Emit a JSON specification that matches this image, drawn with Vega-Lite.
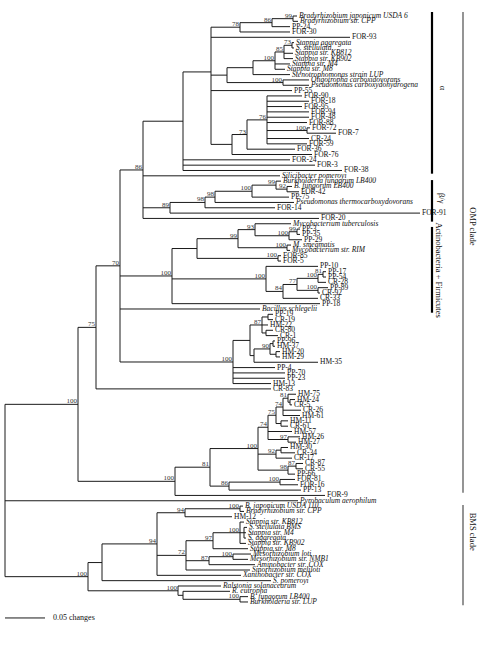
{
"$schema": "https://vega.github.io/schema/vega-lite/v6.json",
"width": 486, "height": 648, "padding": 0, "autosize": {"type": "none"},
"background": "white",
"config": {"view": {"stroke": null}, "text": {"font": "Liberation Serif", "color": "#111"}},
"datasets": {
"nodes": [
{"id":"root","p":null,"d":0,"r":90},
{"id":"n100A","p":"root","d":73,"r":73.9,"b":"100"},
{"id":"n75","p":"n100A","d":91,"r":59.45,"b":"75"},
{"id":"n70","p":"n75","d":115,"r":47.9,"b":"70"},
{"id":"n86b","p":"n70","d":138,"r":29.9,"b":"86"},
{"id":"nAlpha","p":"n86b","d":178,"r":20.75},
{"id":"n211","p":"nAlpha","d":206,"r":11.5},
{"id":"n78","p":"n211","d":235,"r":3.1,"b":"78"},
{"id":"n86a","p":"n78","d":267,"r":2.25,"b":"86"},
{"id":"n99a","p":"n86a","d":288,"r":1.5,"b":"99"},
{"id":"n73a","p":"n85a","d":287,"r":6.5,"b":"73"},
{"id":"n85a","p":"n100s","d":279,"r":7.75,"b":"85"},
{"id":"n100s","p":"nSt","d":270,"r":9.4,"b":"100"},
{"id":"nSt","p":"nS","d":248,"r":10.7},
{"id":"n100o","p":"nS","d":278,"r":13.5,"b":"100"},
{"id":"nS","p":"n211","d":222,"r":12.1},
{"id":"nF","p":"n211","d":227,"r":25.1},
{"id":"n73b","p":"nF","d":242,"r":23.25,"b":"73"},
{"id":"n76","p":"n73b","d":262,"r":20.5,"b":"76"},
{"id":"n100F","p":"n76","d":302,"r":22.5,"b":"100"},
{"id":"n89","p":"n86b","d":165,"r":37,"b":"89"},
{"id":"n98a","p":"n89","d":200,"r":36,"b":"98"},
{"id":"n98b","p":"n98a","d":210,"r":35,"b":"98"},
{"id":"n100B","p":"n98b","d":247,"r":33.9,"b":"100"},
{"id":"n99b","p":"n100B","d":271,"r":32.75,"b":"99"},
{"id":"n92","p":"n99b","d":282,"r":33.5,"b":"92"},
{"id":"n100e","p":"n70","d":167,"r":49.8,"b":"100"},
{"id":"n197","p":"n100e","d":192,"r":44.65},
{"id":"n99c","p":"n197","d":233,"r":42.8,"b":"99"},
{"id":"n93","p":"n99c","d":250,"r":41.1,"b":"93"},
{"id":"n100pp","p":"n93","d":284,"r":42.25,"b":"100"},
{"id":"n99pp","p":"n100pp","d":292,"r":41.5,"b":"99"},
{"id":"n100ms","p":"n99c","d":282,"r":44.5,"b":"100"},
{"id":"n100f85","p":"n197","d":273,"r":46.5,"b":"100"},
{"id":"n100f","p":"n100e","d":261,"r":50.35,"b":"100"},
{"id":"n84","p":"n100f","d":278,"r":52.7,"b":"84"},
{"id":"n77","p":"n84","d":292,"r":51.4,"b":"77"},
{"id":"n100g","p":"n77","d":313,"r":50.25,"b":"100"},
{"id":"n81c","p":"n100g","d":318,"r":49.5,"b":"81"},
{"id":"n100h","p":"n77","d":313,"r":52.5,"b":"100"},
{"id":"n100d","p":"n70","d":228,"r":65.95,"b":"100"},
{"id":"nX","p":"n100d","d":245,"r":61.9},
{"id":"n87","p":"nX","d":257,"r":59,"b":"87"},
{"id":"na","p":"n87","d":263,"r":57.5},
{"id":"nb","p":"n87","d":261,"r":60.5},
{"id":"nY","p":"nX","d":249,"r":64.75},
{"id":"n90","p":"nY","d":265,"r":63.5,"b":"90"},
{"id":"nZ","p":"n90","d":268,"r":62.5},
{"id":"nW","p":"n90","d":271,"r":64.5},
{"id":"n100E","p":"n100A","d":170,"r":88.35,"b":"100"},
{"id":"n81","p":"n100E","d":205,"r":85.7,"b":"81"},
{"id":"n100b","p":"n81","d":253,"r":82.2,"b":"100"},
{"id":"n74a","p":"n100b","d":263,"r":78.2,"b":"74"},
{"id":"n75b","p":"n74a","d":271,"r":75.95,"b":"75"},
{"id":"n74b","p":"n75b","d":278,"r":74.4,"b":"74"},
{"id":"n8x","p":"n74b","d":283,"r":72.75,"b":"81"},
{"id":"nHM24","p":"n8x","d":285,"r":73.5},
{"id":"nHM11","p":"n75b","d":276,"r":77.5},
{"id":"n97","p":"n74a","d":283,"r":80.5,"b":"97"},
{"id":"n92b","p":"n100b","d":271,"r":83.25,"b":"92"},
{"id":"nHM30","p":"n92b","d":276,"r":82.5},
{"id":"n98","p":"n100b","d":283,"r":86.25,"b":"98"},
{"id":"n87b","p":"n98","d":291,"r":85.5,"b":"87"},
{"id":"n86c","p":"n81","d":224,"r":89.25,"b":"86"},
{"id":"n100c","p":"n86c","d":275,"r":88.5,"b":"100"},
{"id":"nBMS","p":"root","d":83,"r":106.25,"b":"100"},
{"id":"n102","p":"nBMS","d":97,"r":103.6},
{"id":"n157","p":"n102","d":152,"r":100.1,"b":"94"},
{"id":"n94b","p":"n157","d":180,"r":94.25,"b":"94"},
{"id":"n100u","p":"n94b","d":235,"r":93.5,"b":"100"},
{"id":"n72","p":"n157","d":181,"r":102.25,"b":"72"},
{"id":"n97b","p":"n72","d":208,"r":99.5,"b":"97"},
{"id":"n100st","p":"n97b","d":235,"r":98,"b":"100"},
{"id":"nD","p":"n100st","d":239,"r":98},
{"id":"n87c","p":"n72","d":204,"r":103.25,"b":"87"},
{"id":"n100m","p":"n87c","d":228,"r":102.5,"b":"100"},
{"id":"nA2","p":"nBMS","d":173,"r":108.9,"b":"100"},
{"id":"nB2","p":"nA2","d":178,"r":109.75},
{"id":"nC","p":"nB2","d":235,"r":110.5,"b":"100"},
{"id":"L1","p":"n99a","d":292,"r":1,"name":"Bradyrhizobium japonicum USDA 6","kind":"taxon"},
{"id":"L2","p":"n99a","d":293,"r":2,"name":"Bradyrhizobium str. CPP","kind":"taxon"},
{"id":"L3","p":"n86a","d":285,"r":3,"name":"PP-24","kind":"clone"},
{"id":"L4","p":"n78","d":285,"r":4,"name":"FOR-30","kind":"clone"},
{"id":"L5","p":"n211","d":345,"r":5,"name":"FOR-93","kind":"clone"},
{"id":"L6","p":"n73a","d":289,"r":6,"name":"Stappia aggregata","kind":"taxon"},
{"id":"L7","p":"n73a","d":289,"r":7,"name":"S. stellulata","kind":"taxon"},
{"id":"L8","p":"n85a","d":288,"r":8,"name":"Stappia str. KB812","kind":"taxon"},
{"id":"L9","p":"n85a","d":288,"r":9,"name":"Stappia str. KB902","kind":"taxon"},
{"id":"L10","p":"n100s","d":285,"r":10,"name":"Stappia str. M4","kind":"taxon"},
{"id":"L11","p":"n100s","d":280,"r":11,"name":"Stappia str. M8","kind":"taxon"},
{"id":"L12","p":"nSt","d":285,"r":12,"name":"Stenotrophomonas strain LUP","kind":"taxon"},
{"id":"L13","p":"n100o","d":304,"r":13,"name":"Oligotropha carboxidovorans","kind":"taxon"},
{"id":"L14","p":"n100o","d":304,"r":14,"name":"Pseudomonas carboxydohydrogena","kind":"taxon"},
{"id":"L15","p":"n211","d":287,"r":15,"name":"PP-55","kind":"clone"},
{"id":"L16","p":"n76","d":297,"r":16,"name":"FOR-90","kind":"clone"},
{"id":"L17","p":"n76","d":304,"r":17,"name":"FOR-18","kind":"clone"},
{"id":"L18","p":"n76","d":297,"r":18,"name":"FOR-95","kind":"clone"},
{"id":"L19","p":"n76","d":304,"r":19,"name":"FOR-94","kind":"clone"},
{"id":"L20","p":"n76","d":304,"r":20,"name":"FOR-48","kind":"clone"},
{"id":"L21","p":"n76","d":302,"r":21,"name":"FOR-88","kind":"clone"},
{"id":"L22","p":"n100F","d":305,"r":22,"name":"FOR-72","kind":"clone"},
{"id":"L23","p":"n100F","d":331,"r":23,"name":"FOR-7","kind":"clone"},
{"id":"L24","p":"n76","d":304,"r":24,"name":"CR-24","kind":"clone"},
{"id":"L25","p":"n76","d":302,"r":25,"name":"FOR-59","kind":"clone"},
{"id":"L26","p":"n73b","d":290,"r":26,"name":"FOR-36","kind":"clone"},
{"id":"L27","p":"nF","d":307,"r":27,"name":"FOR-76","kind":"clone"},
{"id":"L28","p":"nAlpha","d":285,"r":28,"name":"FOR-24","kind":"clone"},
{"id":"L29","p":"nAlpha","d":310,"r":29,"name":"FOR-3","kind":"clone"},
{"id":"L30","p":"nAlpha","d":337,"r":30,"name":"FOR-38","kind":"clone"},
{"id":"L31","p":"n86b","d":275,"r":31,"name":"Silicibacter pomeroyi","kind":"taxon"},
{"id":"L32","p":"n99b","d":276,"r":32,"name":"Burkholderia fungorum LB400","kind":"taxon"},
{"id":"L33","p":"n92","d":287,"r":33,"name":"B. fungorum LB400","kind":"taxon"},
{"id":"L34","p":"n92","d":294,"r":34,"name":"FOR-42","kind":"clone"},
{"id":"L35","p":"n100B","d":284,"r":35,"name":"PP-75","kind":"clone"},
{"id":"L36","p":"n98b","d":289,"r":36,"name":"Pseudomonas thermocarboxydovorans","kind":"taxon"},
{"id":"L37","p":"n98a","d":270,"r":37,"name":"FOR-14","kind":"clone"},
{"id":"L38","p":"n89","d":415,"r":38,"name":"FOR-91","kind":"clone"},
{"id":"L39","p":"n86b","d":314,"r":39,"name":"FOR-20","kind":"clone"},
{"id":"L40","p":"n93","d":286,"r":40,"name":"Mycobacterium tuberculosis","kind":"taxon"},
{"id":"L41","p":"n99pp","d":295,"r":41,"name":"PP-3","kind":"clone"},
{"id":"L42","p":"n99pp","d":295,"r":42,"name":"PP-35","kind":"clone"},
{"id":"L43","p":"n100pp","d":297,"r":43,"name":"PP-29","kind":"clone"},
{"id":"L44","p":"n100ms","d":286,"r":44,"name":"M. smegmatis","kind":"taxon"},
{"id":"L45","p":"n100ms","d":285,"r":45,"name":"Mycobacterium str. RIM","kind":"taxon"},
{"id":"L46","p":"n100f85","d":276,"r":46,"name":"FOR-85","kind":"clone"},
{"id":"L47","p":"n100f85","d":276,"r":47,"name":"FOR-5","kind":"clone"},
{"id":"L48","p":"n100f","d":313,"r":48,"name":"PP-10","kind":"clone"},
{"id":"L49","p":"n81c","d":321,"r":49,"name":"PP-17","kind":"clone"},
{"id":"L50","p":"n81c","d":321,"r":50,"name":"PP-54","kind":"clone"},
{"id":"L51","p":"n100g","d":321,"r":51,"name":"CR-28","kind":"clone"},
{"id":"L52","p":"n100h","d":323,"r":52,"name":"PP-89","kind":"clone"},
{"id":"L53","p":"n100h","d":315,"r":53,"name":"CR-92","kind":"clone"},
{"id":"L54","p":"n84","d":313,"r":54,"name":"CR-33","kind":"clone"},
{"id":"L55","p":"n100e","d":315,"r":55,"name":"PP-18","kind":"clone"},
{"id":"L56","p":"n70","d":255,"r":56,"name":"Bacillus schlegelii","kind":"taxon"},
{"id":"L57","p":"na","d":268,"r":57,"name":"PP-19","kind":"clone"},
{"id":"L58","p":"na","d":268,"r":58,"name":"CR-19","kind":"clone"},
{"id":"L59","p":"n87","d":263,"r":59,"name":"HM-22","kind":"clone"},
{"id":"L60","p":"nb","d":268,"r":60,"name":"CR-80","kind":"clone"},
{"id":"L61","p":"nb","d":273,"r":61,"name":"CR-1","kind":"clone"},
{"id":"L62","p":"nZ","d":270,"r":62,"name":"PP-96","kind":"clone"},
{"id":"L63","p":"nZ","d":270,"r":63,"name":"HM-37","kind":"clone"},
{"id":"L64","p":"nW","d":275,"r":64,"name":"HM-20","kind":"clone"},
{"id":"L65","p":"nW","d":275,"r":65,"name":"HM-29","kind":"clone"},
{"id":"L66","p":"nY","d":313,"r":66,"name":"HM-35","kind":"clone"},
{"id":"L67","p":"n100d","d":270,"r":67,"name":"PP-4","kind":"clone"},
{"id":"L68","p":"n100d","d":280,"r":68,"name":"PP-70","kind":"clone"},
{"id":"L69","p":"n100d","d":280,"r":69,"name":"PP-23","kind":"clone"},
{"id":"L70","p":"n100d","d":266,"r":70,"name":"HM-13","kind":"clone"},
{"id":"L71","p":"n75","d":266,"r":71,"name":"CR-83","kind":"clone"},
{"id":"L72","p":"n8x","d":291,"r":72,"name":"HM-75","kind":"clone"},
{"id":"L73","p":"nHM24","d":290,"r":73,"name":"HM-24","kind":"clone"},
{"id":"L74","p":"nHM24","d":287,"r":74,"name":"CR-5","kind":"clone"},
{"id":"L75","p":"n74b","d":296,"r":75,"name":"CR-26","kind":"clone"},
{"id":"L76","p":"n74b","d":295,"r":76,"name":"HM-61","kind":"clone"},
{"id":"L77","p":"nHM11","d":283,"r":77,"name":"HM-11","kind":"clone"},
{"id":"L78","p":"nHM11","d":283,"r":78,"name":"CR-61","kind":"clone"},
{"id":"L79","p":"n74a","d":287,"r":79,"name":"HM-57","kind":"clone"},
{"id":"L80","p":"n97","d":295,"r":80,"name":"HM-26","kind":"clone"},
{"id":"L81","p":"n97","d":291,"r":81,"name":"HM-27","kind":"clone"},
{"id":"L82","p":"nHM30","d":283,"r":82,"name":"HM-30","kind":"clone"},
{"id":"L83","p":"nHM30","d":290,"r":83,"name":"CR-34","kind":"clone"},
{"id":"L84","p":"n92b","d":287,"r":84,"name":"CR-17","kind":"clone"},
{"id":"L85","p":"n87b","d":298,"r":85,"name":"CR-87","kind":"clone"},
{"id":"L86","p":"n87b","d":298,"r":86,"name":"CR-55","kind":"clone"},
{"id":"L87","p":"n98","d":290,"r":87,"name":"PP-66","kind":"clone"},
{"id":"L88","p":"n100c","d":290,"r":88,"name":"FOR-81","kind":"clone"},
{"id":"L89","p":"n100c","d":293,"r":89,"name":"FOR-16","kind":"clone"},
{"id":"L90","p":"n86c","d":296,"r":90,"name":"PP-13","kind":"clone"},
{"id":"L91","p":"n100E","d":320,"r":91,"name":"FOR-9","kind":"clone"},
{"id":"L92","p":"root","d":293,"r":92,"name":"Pyrobaculum aerophilum","kind":"taxon"},
{"id":"L93","p":"n100u","d":238,"r":93,"name":"B. japonicum USDA 110","kind":"taxon"},
{"id":"L94","p":"n100u","d":239,"r":94,"name":"Bradyrhizobium str. CPP","kind":"taxon"},
{"id":"L95","p":"n94b","d":227,"r":95,"name":"HM-12","kind":"clone"},
{"id":"L96","p":"n100st","d":239,"r":96,"name":"Stappia str. KB812","kind":"taxon"},
{"id":"L97","p":"nD","d":242,"r":97,"name":"S. stellulata BMS","kind":"taxon"},
{"id":"L98","p":"nD","d":241,"r":98,"name":"Stappia str. M4","kind":"taxon"},
{"id":"L99","p":"nD","d":241,"r":99,"name":"S. aggregata","kind":"taxon"},
{"id":"L100","p":"n100st","d":241,"r":100,"name":"Stappia str. KB902","kind":"taxon"},
{"id":"L101","p":"n97b","d":243,"r":101,"name":"Stappia str. M8","kind":"taxon"},
{"id":"L102","p":"n100m","d":246,"r":102,"name":"Mesorhizobium loti","kind":"taxon"},
{"id":"L103","p":"n100m","d":243,"r":103,"name":"Mesorhizobium str. NMB1","kind":"taxon"},
{"id":"L104","p":"n87c","d":250,"r":104,"name":"Aminobacter str. COX","kind":"taxon"},
{"id":"L105","p":"n72","d":245,"r":105,"name":"Sinorhizobium meliloti","kind":"taxon"},
{"id":"L106","p":"n157","d":236,"r":106,"name":"Xanthobacter str. COX","kind":"taxon"},
{"id":"L107","p":"n102","d":266,"r":107,"name":"S. pomeroyi","kind":"taxon"},
{"id":"L108","p":"nA2","d":216,"r":108,"name":"Ralstonia solanacearum","kind":"taxon"},
{"id":"L109","p":"nB2","d":225,"r":109,"name":"R. eutropha","kind":"taxon"},
{"id":"L110","p":"nC","d":243,"r":110,"name":"B. fungorum LB400","kind":"taxon"},
{"id":"L111","p":"nC","d":243,"r":111,"name":"Burkholderia str. LUP","kind":"taxon"}
],
"clades": [
{"clade":"α","lvl":"inner","d":427,"r1":0.25,"r2":30.6,"ld":438,"lr":14.5},
{"clade":"β/γ","lvl":"inner","d":427,"r1":31.8,"r2":39.6,"ld":437,"lr":35.2},
{"clade":"Actinobacteria + Firmicutes","lvl":"inner","d":427,"r1":40.6,"r2":56.7,"ld":434,"lr":48.7},
{"clade":"OMP clade","lvl":"outer","d":458,"r1":0.25,"r2":90.5,"ld":468,"lr":40.5},
{"clade":"BMS clade","lvl":"outer","d":458,"r1":92.8,"r2":111.6,"ld":468,"lr":97.8}
],
"scalebar": [{"d1":0,"d2":40,"r":114,"label":"0.05 changes"}]
},
"layer": [
{"data":{"name":"nodes"},
 "transform":[{"filter":"datum.p != null"},{"lookup":"p","from":{"data":{"name":"nodes"},"key":"id","fields":["d"]},"as":["pd"]}],
 "mark":{"type":"rule","color":"#1a1a1a","strokeWidth":1},
 "encoding":{
  "x":{"field":"pd","type":"quantitative","scale":{"domain":[-5,481],"nice":false,"zero":false},"axis":null},
  "x2":{"field":"d"},
  "y":{"field":"r","type":"quantitative","scale":{"domain":[-2.004,119.64],"nice":false,"zero":false,"reverse":true},"axis":null}}},
{"data":{"name":"nodes"},
 "transform":[{"filter":"datum.p != null"},{"aggregate":[{"op":"min","field":"r","as":"r1"},{"op":"max","field":"r","as":"r2"}],"groupby":["p"]},{"lookup":"p","from":{"data":{"name":"nodes"},"key":"id","fields":["d"]},"as":["pd"]}],
 "mark":{"type":"rule","color":"#1a1a1a","strokeWidth":1},
 "encoding":{
  "x":{"field":"pd","type":"quantitative","scale":{"domain":[-5,481],"nice":false,"zero":false},"axis":null},
  "y":{"field":"r1","type":"quantitative","scale":{"domain":[-2.004,119.64],"nice":false,"zero":false,"reverse":true},"axis":null},
  "y2":{"field":"r2"}}},
{"data":{"name":"nodes"},
 "transform":[{"filter":"datum.kind == 'clone'"}],
 "mark":{"type":"text","align":"left","baseline":"middle","dx":2,"fontSize":7.5,"color":"#111"},
 "encoding":{
  "x":{"field":"d","type":"quantitative","scale":{"domain":[-5,481],"nice":false,"zero":false},"axis":null},
  "y":{"field":"r","type":"quantitative","scale":{"domain":[-2.004,119.64],"nice":false,"zero":false,"reverse":true},"axis":null},
  "text":{"field":"name"}}},
{"data":{"name":"nodes"},
 "transform":[{"filter":"datum.kind == 'taxon'"}],
 "mark":{"type":"text","align":"left","baseline":"middle","dx":2,"fontSize":7.5,"fontStyle":"italic","color":"#111"},
 "encoding":{
  "x":{"field":"d","type":"quantitative","scale":{"domain":[-5,481],"nice":false,"zero":false},"axis":null},
  "y":{"field":"r","type":"quantitative","scale":{"domain":[-2.004,119.64],"nice":false,"zero":false,"reverse":true},"axis":null},
  "text":{"field":"name"}}},
{"data":{"name":"nodes"},
 "transform":[{"filter":"datum.b != null"}],
 "mark":{"type":"text","align":"right","baseline":"alphabetic","dx":-1,"dy":-1,"fontSize":7,"color":"#333"},
 "encoding":{
  "x":{"field":"d","type":"quantitative","scale":{"domain":[-5,481],"nice":false,"zero":false},"axis":null},
  "y":{"field":"r","type":"quantitative","scale":{"domain":[-2.004,119.64],"nice":false,"zero":false,"reverse":true},"axis":null},
  "text":{"field":"b"}}},
{"data":{"name":"clades"},
 "transform":[{"filter":"datum.lvl == 'inner'"}],
 "mark":{"type":"rule","color":"#000","strokeWidth":2.2},
 "encoding":{
  "x":{"field":"d","type":"quantitative","scale":{"domain":[-5,481],"nice":false,"zero":false},"axis":null},
  "y":{"field":"r1","type":"quantitative","scale":{"domain":[-2.004,119.64],"nice":false,"zero":false,"reverse":true},"axis":null},
  "y2":{"field":"r2"}}},
{"data":{"name":"clades"},
 "transform":[{"filter":"datum.lvl == 'outer'"}],
 "mark":{"type":"rule","color":"#7a7a7a","strokeWidth":1.6},
 "encoding":{
  "x":{"field":"d","type":"quantitative","scale":{"domain":[-5,481],"nice":false,"zero":false},"axis":null},
  "y":{"field":"r1","type":"quantitative","scale":{"domain":[-2.004,119.64],"nice":false,"zero":false,"reverse":true},"axis":null},
  "y2":{"field":"r2"}}},
{"data":{"name":"clades"},
 "mark":{"type":"text","angle":90,"align":"center","baseline":"middle","fontSize":8.5,"color":"#111"},
 "encoding":{
  "x":{"field":"ld","type":"quantitative","scale":{"domain":[-5,481],"nice":false,"zero":false},"axis":null},
  "y":{"field":"lr","type":"quantitative","scale":{"domain":[-2.004,119.64],"nice":false,"zero":false,"reverse":true},"axis":null},
  "text":{"field":"clade"}}},
{"data":{"name":"scalebar"},
 "mark":{"type":"rule","color":"#1a1a1a","strokeWidth":1},
 "encoding":{
  "x":{"field":"d1","type":"quantitative","scale":{"domain":[-5,481],"nice":false,"zero":false},"axis":null},
  "x2":{"field":"d2"},
  "y":{"field":"r","type":"quantitative","scale":{"domain":[-2.004,119.64],"nice":false,"zero":false,"reverse":true},"axis":null}}},
{"data":{"name":"scalebar"},
 "mark":{"type":"text","align":"left","baseline":"middle","dx":8,"fontSize":8,"color":"#111"},
 "encoding":{
  "x":{"field":"d2","type":"quantitative","scale":{"domain":[-5,481],"nice":false,"zero":false},"axis":null},
  "y":{"field":"r","type":"quantitative","scale":{"domain":[-2.004,119.64],"nice":false,"zero":false,"reverse":true},"axis":null},
  "text":{"field":"label"}}}
]
}
